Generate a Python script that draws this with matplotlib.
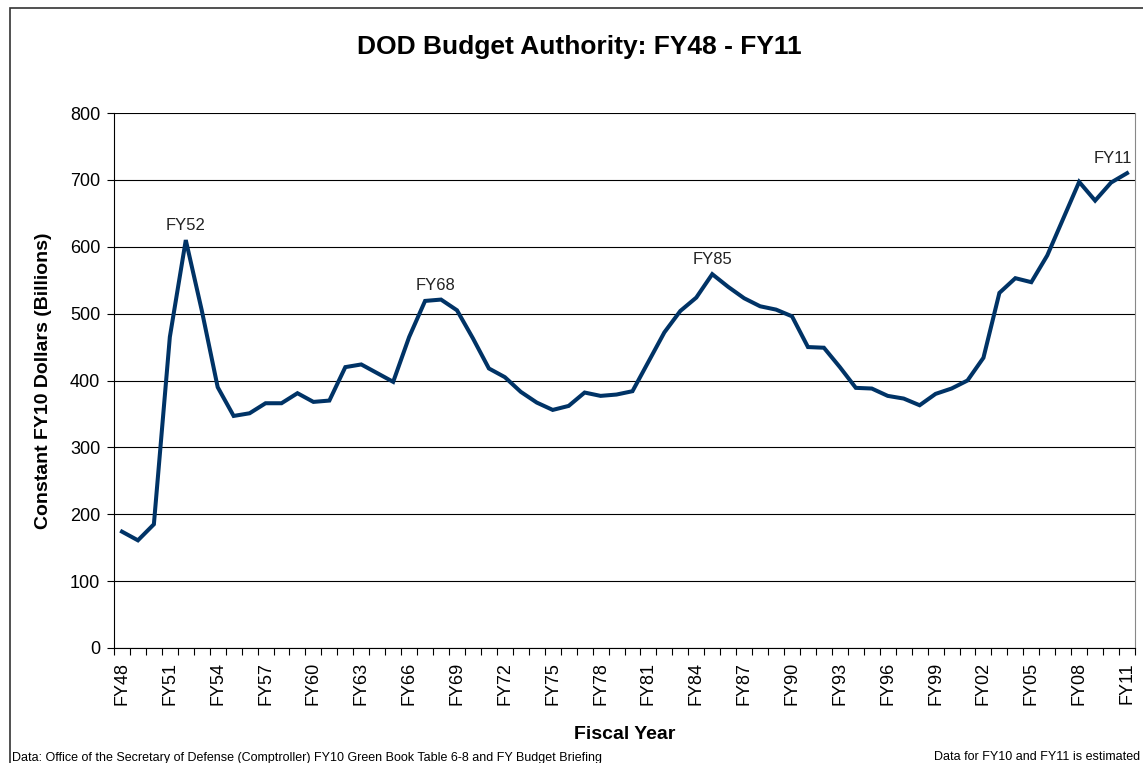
import numpy as np
import matplotlib
matplotlib.use("Agg")
import matplotlib.pyplot as plt
from matplotlib.patches import Rectangle

plt.rcParams['font.family'] = ['Liberation Sans', 'DejaVu Sans']

# fiscal years FY48 .. FY11
years = ["FY%02d" % (y % 100) for y in range(1948, 2012)]

# constant FY10 dollars, billions
budget = [
    174, 161, 185, 465, 610, 505, 390, 347, 351, 366,
    366, 381, 368, 370, 420, 424, 411, 398, 465, 519,
    521, 505, 463, 418, 405, 383, 367, 356, 362, 382,
    377, 379, 384, 428, 472, 504, 524, 559, 540, 523,
    511, 506, 496, 450, 449, 420, 389, 388, 377, 373,
    363, 380, 388, 400, 434, 531, 553, 547, 587, 642,
    697, 669, 696, 710,
]

peaks = ["FY52", "FY68", "FY85", "FY11"]
peak_offsets = {"FY52": (0, 5), "FY68": (-4, 5), "FY85": (0, 5), "FY11": (-10, 5)}

line_color = "#003366"

fig = plt.figure(figsize=(11.43, 7.63), dpi=100)
ax = fig.add_axes([114 / 1143, 1 - 648 / 763, (1135 - 114) / 1143, (648 - 113) / 763])

x = np.arange(len(years))
ax.plot(x, budget, color=line_color, lw=2.9, solid_joinstyle="miter", zorder=3)

for lab in peaks:
    i = years.index(lab)
    ax.annotate(lab, (x[i], budget[i]), xytext=peak_offsets[lab],
                textcoords="offset points", ha="center", va="bottom",
                fontsize=12, color="#222222")

ax.set_xlim(-0.5, len(years) - 0.5)
ax.set_ylim(0, 800)
ax.set_yticks(range(0, 801, 100))
ax.yaxis.grid(True, color="black", lw=0.8)
ax.set_axisbelow(True)

# tick marks on category boundaries, labels every third year
ax.set_xticks(np.arange(-0.5, len(years), 1.0))
ax.set_xticklabels([])
ax.set_xticks(x[::3], minor=True)
ax.set_xticklabels(years[::3], minor=True, rotation=90, fontsize=13)
ax.tick_params(axis="x", which="major", length=5, width=0.8, direction="out")
ax.tick_params(axis="x", which="minor", length=0, pad=10)
ax.tick_params(axis="y", length=5, width=0.8, pad=5, labelsize=13)

ax.spines["top"].set_visible(False)
ax.spines["right"].set_color("#888888")
for s in ("left", "bottom"):
    ax.spines[s].set_color("black")
    ax.spines[s].set_linewidth(0.8)

ax.set_ylabel("Constant FY10 Dollars (Billions)", fontsize=14, fontweight="bold", labelpad=13)
ax.set_xlabel("Fiscal Year", fontsize=14, fontweight="bold", labelpad=15)

fig.text(579 / 1143, 1 - 47 / 763, "DOD Budget Authority: FY48 - FY11",
         ha="center", va="center", fontsize=19, fontweight="bold")

fig.text(12 / 1143, 1 - 758 / 763,
         "Data: Office of the Secretary of Defense (Comptroller) FY10 Green Book Table 6-8 and FY Budget Briefing",
         ha="left", va="center", fontsize=9)
fig.text(1140 / 1143, 1 - 757 / 763, "Data for FY10 and FY11 is estimated",
         ha="right", va="center", fontsize=9)

# chart frame (cropped on the right and bottom)
fig.patches.append(Rectangle((10 / 1143, -0.1), 1.2, 1.1 - 8 / 763,
                             transform=fig.transFigure, fill=False,
                             edgecolor="#333333", lw=1.2))

fig.savefig("out.png", dpi=100)
